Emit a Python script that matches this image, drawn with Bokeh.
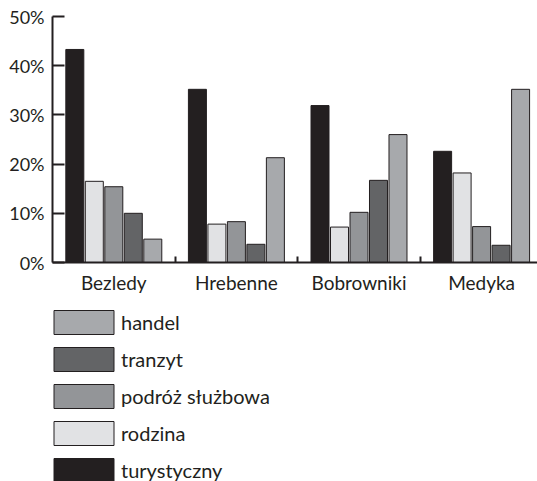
from bokeh.plotting import figure
from bokeh.layouts import column
from bokeh.models import Range1d, FixedTicker, Legend, LegendItem, ColumnDataSource, PrintfTickFormatter
from bokeh.embed import file_html
from bokeh.resources import INLINE

categories = ["Bezledy", "Hrebenne", "Bobrowniki", "Medyka"]
series = ["turystyczny", "rodzina", "podróż służbowa", "tranzyt", "handel"]
turystyczny = [43.3, 35.2, 31.9, 22.6]
rodzina = [16.5, 7.8, 7.2, 18.2]
podroz = [15.4, 8.3, 10.2, 7.3]
tranzyt = [10.0, 3.7, 16.7, 3.5]
handel = [4.75, 21.3, 26.0, 35.2]
values = [turystyczny, rodzina, podroz, tranzyt, handel]
colors = ["#231f20", "#e1e2e4", "#939598", "#636466", "#a7a9ac"]
y_ticks = [0, 10, 20, 30, 40, 50]

FONT = "Lato"
TXT = "#231f20"

W = 537
GW = 122.6  # px per category
p = figure(width=W, height=300, output_backend="svg", toolbar_location=None,
           x_range=Range1d(0, (W - 52) / GW), y_range=Range1d(0, 50),
           min_border_left=52, min_border_right=0, min_border_top=16, min_border_bottom=38)
p.outline_line_color = None
p.grid.visible = False
p.background_fill_color = None
p.border_fill_color = "white"

offsets = [-0.318, -0.159, 0.0, 0.159, 0.318]
for k, s in enumerate(series):
    src = ColumnDataSource(dict(x=[i + 0.5 + offsets[k] for i in range(len(categories))],
                                top=values[k]))
    p.vbar(x="x", top="top", width=18 / GW, bottom=0, source=src,
           fill_color=colors[k], line_color="#231f20", line_width=1)

# y axis
ya = p.yaxis[0]
ya.ticker = FixedTicker(ticks=y_ticks)
ya.formatter = PrintfTickFormatter(format="%d%%")
ya.axis_line_width = 2
ya.axis_line_color = TXT
ya.major_tick_in = 12
ya.major_tick_out = 0
ya.major_tick_line_width = 2
ya.major_tick_line_color = TXT
ya.minor_tick_line_color = None
ya.major_label_standoff = 8
ya.major_label_text_font = FONT
ya.major_label_text_font_size = "18px"
ya.major_label_text_color = TXT

# x axis
xa = p.xaxis[0]
xa.ticker = FixedTicker(ticks=[i + 0.5 for i in range(len(categories))],
                        minor_ticks=[i for i in range(1, len(categories))])
xa.major_label_overrides = {i + 0.5: c for i, c in enumerate(categories)}
xa.axis_line_width = 2
xa.axis_line_color = TXT
xa.major_tick_line_color = None
xa.major_tick_in = 0
xa.major_tick_out = 0
xa.minor_tick_in = 6
xa.minor_tick_out = 0
xa.minor_tick_line_width = 2
xa.minor_tick_line_color = TXT
xa.major_label_standoff = 8
xa.major_label_text_font = FONT
xa.major_label_text_font_size = "19px"
xa.major_label_text_color = TXT

# legend figure
lf = figure(width=W, height=181, output_backend="svg", toolbar_location=None,
            x_range=Range1d(0, 1), y_range=Range1d(0, 1),
            x_axis_location=None, y_axis_location=None,
            min_border_left=0, min_border_right=0, min_border_top=0, min_border_bottom=0)
lf.outline_line_color = None
lf.grid.visible = False
lf.background_fill_color = None
lf.border_fill_color = "white"
lrs = []
for k, s in enumerate(series):
    r = lf.vbar(x=[-5], top=[0], width=0.1, fill_color=colors[k], line_color="#231f20", line_width=1)
    lrs.append(r)
items = [LegendItem(label=series[k], renderers=[lrs[k]]) for k in [4, 3, 2, 1, 0]]
legend = Legend(items=items, orientation="vertical", location=(-6, -4),
                glyph_width=75, glyph_height=30, label_standoff=0, spacing=7,
                padding=0, margin=0, border_line_color=None, background_fill_alpha=0,
                label_text_font=FONT, label_text_font_size="20px", label_text_color=TXT,
                label_height=30)
lf.add_layout(legend, "center")

layout = column(p, lf, spacing=0)
open("out.html", "w").write(file_html(layout, INLINE))
